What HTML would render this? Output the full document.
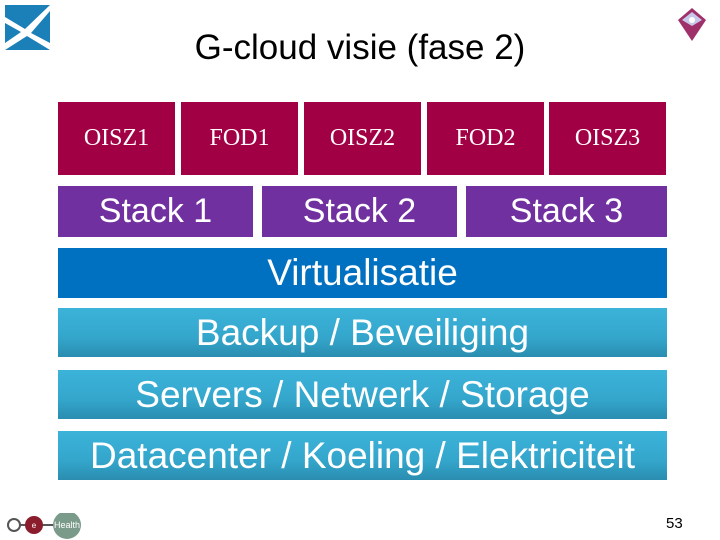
<!DOCTYPE html>
<html><head><meta charset="utf-8"><style>
body{margin:0;width:720px;height:540px;background:#fff;position:relative;overflow:hidden;font-family:"Liberation Sans",sans-serif}
.b{position:absolute;display:flex;align-items:center;justify-content:center;color:#fff;white-space:nowrap}
.m{background:#a10044;top:102px;height:73px;width:117px;font-family:"Liberation Serif",serif;font-size:24px}
.s{background:#7030a0;top:186px;height:51px;font-size:34px}
.t{left:58px;width:609px;height:49px;font-size:37px;background:linear-gradient(#3cb3d9,#34a6cc 60%,#2a8db0);}
</style></head><body>
<svg style="position:absolute;left:5px;top:5px" width="45" height="45"><rect width="45" height="45" fill="#1b7fb8"/><path d="M0 12 L20 24 L45 0 L45 6 L26 28 L45 38 L45 45 L22 31 L0 45 L0 38 L16 27 L0 18Z" fill="#fff"/></svg>
<svg style="position:absolute;left:677px;top:8px" width="30" height="34"><path d="M15 0 L29 12 L15 33 L1 12Z" fill="#a0306a"/><path d="M15 4 L25 12 L15 18 L5 12Z" fill="#c8c8ea"/><circle cx="15" cy="12" r="3" fill="#fff"/></svg>
<div class="b" style="left:0;width:720px;top:26px;height:44px;color:#000;font-size:35px">G-cloud visie (fase 2)</div>
<div class="b m" style="left:58px">OISZ1</div>
<div class="b m" style="left:181px">FOD1</div>
<div class="b m" style="left:304px">OISZ2</div>
<div class="b m" style="left:427px">FOD2</div>
<div class="b m" style="left:549px">OISZ3</div>
<div class="b s" style="left:58px;width:195px">Stack 1</div>
<div class="b s" style="left:262px;width:195px">Stack 2</div>
<div class="b s" style="left:466px;width:201px">Stack 3</div>
<div class="b" style="left:58px;width:609px;top:248px;height:50px;background:#0070c0;font-size:37px">Virtualisatie</div>
<div class="b t" style="top:308px">Backup / Beveiliging</div>
<div class="b t" style="top:370px">Servers / Netwerk / Storage</div>
<div class="b t" style="top:431px">Datacenter / Koeling / Elektriciteit</div>
<svg style="position:absolute;left:4px;top:513px" width="80" height="26"><line x1="10" y1="12" x2="55" y2="12" stroke="#555" stroke-width="2"/><circle cx="10" cy="12" r="6" fill="#fff" stroke="#555" stroke-width="2"/><circle cx="30" cy="12" r="9" fill="#8b1c2c"/><text x="30" y="15" font-size="8" fill="#fff" text-anchor="middle">e</text><circle cx="63" cy="12" r="14" fill="#7a9a8a"/><text x="63" y="15" font-size="9" fill="#fff" text-anchor="middle">Health</text></svg>
<div style="position:absolute;left:666px;top:515px;font-size:15px;color:#000">53</div>
</body></html>
